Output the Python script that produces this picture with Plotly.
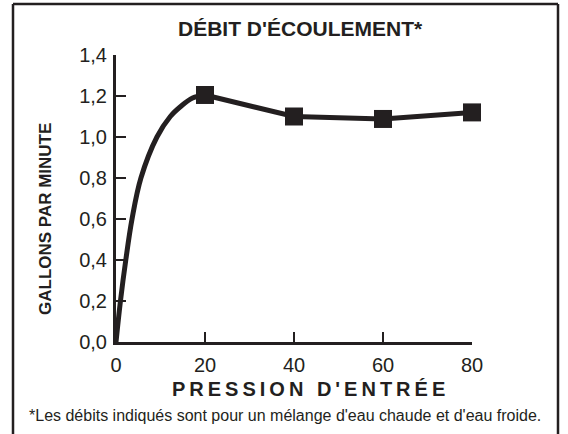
import plotly.graph_objects as go

# Data
pressure = [20, 40, 60, 80]
flow = [1.205, 1.10, 1.088, 1.12]
# points read along the rising curve from the origin to the first marker
curve_x = [0, 1.0, 2.2, 3.6, 5.6, 9.2, 12.2, 14.6, 17.2, 20]
curve_y = [0, 0.2, 0.4, 0.6, 0.8, 1.0, 1.1, 1.15, 1.19, 1.205]

x_ticks = [0, 20, 40, 60, 80]
y_ticks = [0, 0.2, 0.4, 0.6, 0.8, 1.0, 1.2, 1.4]
y_labels = ["0,0", "0,2", "0,4", "0,6", "0,8", "1,0", "1,2", "1,4"]

title = "DÉBIT D'ÉCOULEMENT*"
x_title = "PRESSION D'ENTRÉE"
y_title = "GALLONS PAR MINUTE"
footnote = "*Les débits indiqués sont pour un mélange d'eau chaude et d'eau froide."

INK = "#231f20"
FONT = "Liberation Sans, Arial, Helvetica, sans-serif"

W, H = 568, 434
L, R, T, B = 116, 96, 55, 92
pw = W - L - R
ph = H - T - B

def px(x):
    return (x - L) / pw

def py(y):
    return (H - B - y) / ph

fig = go.Figure()
fig.add_trace(go.Scatter(x=curve_x, y=curve_y, mode="lines",
                         line=dict(color=INK, width=5, shape="spline", smoothing=1.0),
                         cliponaxis=False, hoverinfo="skip"))
fig.add_trace(go.Scatter(x=[curve_x[-1]] + pressure[1:], y=[curve_y[-1]] + flow[1:], mode="lines",
                         line=dict(color=INK, width=5), cliponaxis=False))
fig.add_trace(go.Scatter(x=pressure, y=flow, mode="markers",
                         marker=dict(symbol="square", size=18, color=INK),
                         cliponaxis=False))

fig.update_layout(
    width=W, height=H,
    margin=dict(l=L, r=R, t=T, b=B, pad=0),
    paper_bgcolor="white", plot_bgcolor="white",
    showlegend=False,
    font=dict(family=FONT, color=INK),
    xaxis=dict(range=[0, 80], tickvals=x_ticks, ticks="inside", ticklen=10, tickwidth=2,
               tickcolor=INK, showline=True, linecolor=INK, linewidth=3,
               showgrid=False, zeroline=False, ticklabelstandoff=3,
               tickfont=dict(size=20, color=INK)),
    yaxis=dict(range=[0, 1.4], tickvals=y_ticks, ticktext=y_labels, ticks="inside",
               ticklen=10, tickwidth=2, tickcolor=INK, showline=True, linecolor=INK,
               linewidth=3, showgrid=False, zeroline=False, ticklabelstandoff=2,
               tickfont=dict(size=20, color=INK)),
)

# frame: left, top, right edges (bottom is cut off)
frame = dict(xref="paper", yref="paper", type="line", line=dict(color=INK, width=2.5))
fig.add_shape(x0=px(13), x1=px(13), y0=py(4), y1=py(440), **frame)
fig.add_shape(x0=px(13), x1=px(558), y0=py(4), y1=py(4), **frame)
fig.add_shape(x0=px(558), x1=px(558), y0=py(4), y1=py(440), **frame)

ann = dict(xref="paper", yref="paper", showarrow=False, xanchor="center", yanchor="middle")
fig.add_annotation(text="<b>" + title + "</b>", x=px(300), y=py(28),
                   font=dict(size=21, color=INK, family=FONT), **ann)
fig.add_annotation(text="<b><span style='letter-spacing:4px'>" + x_title + "</span></b>",
                   x=px(310), y=py(389), font=dict(size=20, color=INK, family=FONT), **ann)
fig.add_annotation(text="<b>" + y_title + "</b>", x=px(45), y=py(219), textangle=-90,
                   font=dict(size=17, color=INK, family=FONT), **ann)
fig.add_annotation(text=footnote, x=px(285), y=py(415),
                   font=dict(size=16, color=INK, family=FONT), **ann)

fig.write_html("out.html", config={"displayModeBar": False},
               post_script="document.body.style.margin='0px';")
